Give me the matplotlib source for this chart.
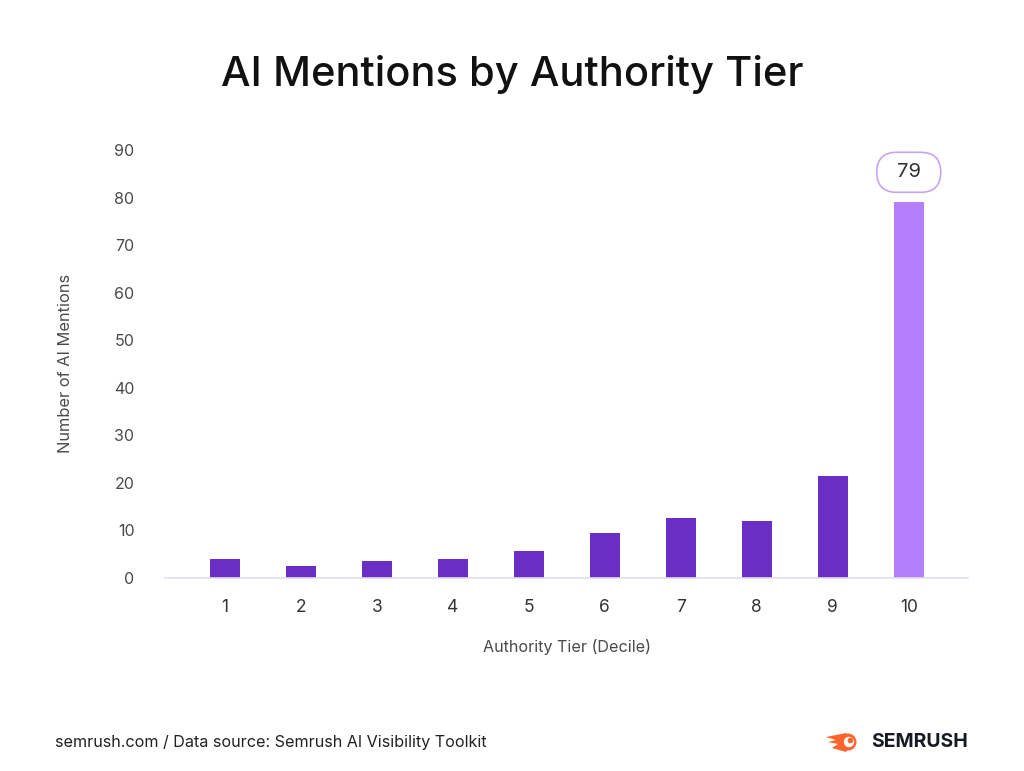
import numpy as np
import matplotlib
matplotlib.use("Agg")
import matplotlib.pyplot as plt
from matplotlib.patches import FancyBboxPatch, Circle, Polygon
from matplotlib.transforms import IdentityTransform

# ─────────────────────────────────────────────
# Data
# ─────────────────────────────────────────────
tiers = [1, 2, 3, 4, 5, 6, 7, 8, 9, 10]
mentions = [4.0, 2.6, 3.5, 3.9, 5.6, 9.4, 12.6, 12.0, 21.4, 79]
y_ticks = [0, 10, 20, 30, 40, 50, 60, 70, 80, 90]

DARK = "#6A2EC4"
LIGHT = "#B57FFB"
GREY = "#4a4a4a"
ORANGE = "#FF642D"

plt.rcParams["font.family"] = ["Inter", "DejaVu Sans"]

fig = plt.figure(figsize=(10.24, 7.71), dpi=100)
ax = fig.add_axes([165 / 1024, 193 / 771, 803 / 1024, 428 / 771])

colors = [DARK] * (len(tiers) - 1) + [LIGHT]
ax.bar(tiers, mentions, width=0.4, color=colors, zorder=2)

ax.set_xlim(0.21, 10.78)
ax.set_ylim(0, 90)
ax.set_yticks(y_ticks)
ax.set_xticks(tiers)
ax.tick_params(axis="y", length=0, pad=22, labelsize=11.5, labelcolor=GREY)
ax.tick_params(axis="x", length=0, pad=15, labelsize=12.5, labelcolor="#333333")

for s in ["top", "right", "left"]:
    ax.spines[s].set_visible(False)
ax.spines["bottom"].set_color("#E2DEF0")
ax.spines["bottom"].set_linewidth(1.2)

# value pill over the last bar
fig.canvas.draw()
px, py = ax.transData.transform((tiers[-1], mentions[-1]))
cy = py + 30
pill = FancyBboxPatch((px - 32, cy - 20), 64, 40,
                      boxstyle="round,pad=0,rounding_size=20",
                      transform=IdentityTransform(), facecolor="white",
                      edgecolor="#C8A4F4", linewidth=1.2, zorder=5)
fig.add_artist(pill)
fig.text(px / 1024, cy / 771, f"{mentions[-1]:.0f}", ha="center", va="center",
         fontsize=14.5, color="#333333", zorder=6)

# titles
fig.text(0.5, 1 - 75 / 771, "AI Mentions by Authority Tier", ha="center",
         va="center", fontsize=30, fontweight="medium", color="#111111")
fig.text(66 / 1024, 1 - 363 / 771, "Number of AI Mentions", rotation=90,
         ha="center", va="center", fontsize=11.8, color=GREY)
fig.text(567 / 1024, 1 - 647 / 771, "Authority Tier (Decile)", ha="center",
         va="center", fontsize=11.6, color=GREY)

# footer
fig.text(55 / 1024, 1 - 743 / 771,
         "semrush.com / Data source: Semrush AI Visibility Toolkit",
         ha="left", va="center", fontsize=11.6, color="#222222")

# logo
fig.text(968 / 1024, 1 - 742 / 771, "SEMRUSH", ha="right", va="center",
         fontsize=14, fontweight="bold", color="#171A22")
flame = Polygon([(826, 771 - 737), (846, 771 - 733), (852, 771 - 742),
                 (846, 771 - 752), (832, 771 - 748), (838, 771 - 744),
                 (828, 771 - 742), (836, 771 - 740)],
                closed=True, transform=IdentityTransform(),
                facecolor=ORANGE, edgecolor="none")
fig.add_artist(flame)
fig.add_artist(Circle((848, 771 - 742), 8.5, transform=IdentityTransform(),
                      facecolor=ORANGE, edgecolor="none"))
fig.add_artist(Circle((849, 771 - 742), 5.2, transform=IdentityTransform(),
                      facecolor="white", edgecolor="none"))
fig.add_artist(Circle((850.5, 771 - 740.5), 2.8, transform=IdentityTransform(),
                      facecolor=ORANGE, edgecolor="none"))

fig.savefig("out.png", dpi=100, facecolor="white")
